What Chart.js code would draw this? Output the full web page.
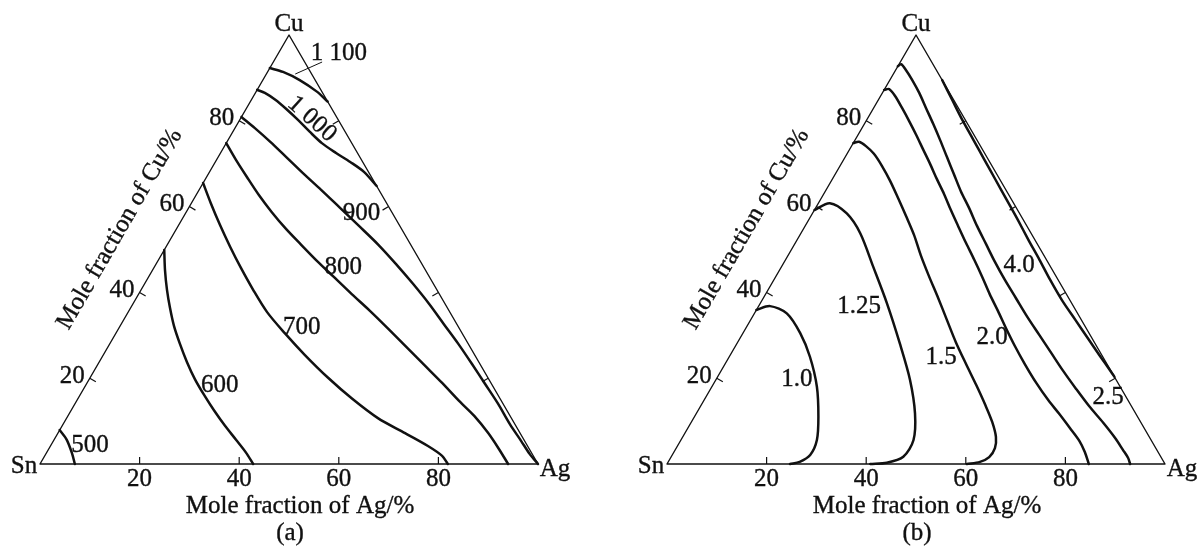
<!DOCTYPE html>
<html>
<head>
<meta charset="utf-8">
<script src="https://cdn.jsdelivr.net/npm/chart.js@4/dist/chart.umd.min.js"></script>
<style>
  html, body { margin: 0; padding: 0; background: #fff; }
  #wrap { position: relative; width: 1200px; height: 546px; overflow: hidden; }
  #wrap canvas { position: absolute; top: 0; }
  #chartA { left: 0; }
  #chartB { left: 600px; }
</style>
</head>
<body>
<div id="wrap">
  <canvas id="chartA" width="600" height="546"></canvas>
  <canvas id="chartB" width="600" height="546"></canvas>
</div>
<script>
// Grid ticks shared by the three edges (percent)
const TICKS = [20, 40, 60, 80];
const TICK_LABELS = ['20', '40', '60', '80'];

// ---- Panel (a): isotherms, pairs of [Ag %, Cu %] ----
const LEVELS_A = [500, 600, 700, 800, 900, 1000, 1100];
const A500 = [[0, 7.9], [2.5, 5.7], [5.1, 2.6], [7.0, 0]];
const A600 = [[0, 49.9], [2.5, 45.2], [5.2, 40.6], [7.9, 36.4], [10.8, 32.2], [14.1, 28.0], [17.6, 23.8],
  [21.2, 19.8], [24.9, 16.1], [28.8, 12.4], [32.7, 8.9], [36.6, 5.6], [40.1, 2.6], [42.8, 0]];
const A700 = [[0, 65.5], [3.9, 60.8], [8.3, 55.7], [12.9, 50.6], [17.5, 45.7], [22.5, 40.6], [27.9, 35.4],
  [33.9, 30.5], [40.5, 25.4], [47.8, 20.1], [55.1, 15.2], [62.5, 10.7], [69.7, 7.2], [75.8, 4.2], [79.8, 1.9], [81.9, 0]];
const A800 = [[0, 74.8], [3.9, 70.9], [8.1, 66.9], [12.6, 62.7], [17.2, 58.7], [22.0, 54.8], [26.9, 51.1],
  [32.0, 47.3], [37.2, 43.6], [42.8, 39.6], [48.4, 35.7], [54.2, 31.5], [59.9, 27.3], [65.6, 23.1], [71.3, 18.9],
  [76.8, 14.7], [81.6, 11.2], [86.4, 7.2], [90.4, 3.5], [94.0, 0]];
const A900 = [[0, 80.9], [4.0, 78.3], [8.7, 75.1], [13.6, 71.6], [18.9, 67.8], [24.5, 63.9], [30.4, 59.7],
  [36.3, 55.5], [42.4, 51.1], [48.2, 46.6], [53.9, 42.0], [59.5, 37.3], [64.8, 32.6], [70.0, 28.0], [75.1, 23.3],
  [80.0, 18.7], [85.0, 14.0], [89.7, 9.3], [93.9, 5.4], [97.2, 2.3], [100, 0]];
const A1000 = [[0, 87.2], [1.9, 86.5], [4.8, 84.9], [8.0, 82.8], [11.7, 80.2], [15.5, 77.4], [19.2, 74.8],
  [23.2, 72.5], [27.1, 70.4], [31.0, 68.1], [35.2, 64.8]];
const A1100 = [[0, 92.3], [3.1, 91.4], [7.4, 89.5], [12.2, 86.8], [15.5, 84.5]];
const CURVES_A = [A500, A600, A700, A800, A900, A1000, A1100];

// ---- Panel (b): iso-lines, pairs of [Ag %, Cu %] ----
const LEVELS_B = [1.0, 1.25, 1.5, 2.0, 2.5, 4.0];
const B100 = [[0, 35.9], [2.3, 36.8], [6.5, 35.1], [11.5, 30.5], [16.2, 25.0], [21.1, 18.0], [24.9, 11.0],
  [27.3, 5.6], [27.7, 2.1], [26.4, 0.5], [24.7, 0]];
const B125 = [[0, 59.2], [2.3, 60.8], [6.9, 58.4], [11.9, 53.8], [18.4, 46.0], [25.4, 37.5], [32.7, 28.1],
  [39.0, 19.6], [43.9, 11.8], [46.7, 5.6], [46.6, 1.7], [44.0, 0.3], [40.8, 0]];
const B150 = [[0, 74.8], [1.0, 75.1], [2.9, 74.1], [5.4, 72.3], [8.4, 69.5], [11.8, 66.0], [15.4, 62.0],
  [19.1, 57.8], [22.9, 53.4], [26.6, 48.7], [30.7, 43.8], [35.1, 38.7], [39.4, 33.6], [43.8, 28.4], [48.4, 23.3],
  [52.9, 18.4], [57.0, 13.8], [60.4, 9.8], [62.9, 6.3], [64.0, 3.7], [63.9, 1.6], [62.6, 0.5], [60.2, 0]];
const B200 = [[0, 87.2], [0.9, 87.4], [2.9, 85.8], [5.7, 83.0], [8.6, 80.0], [11.7, 76.7], [14.7, 73.4],
  [17.9, 69.9], [21.0, 66.4], [24.2, 62.9], [27.4, 59.2], [30.7, 55.5], [34.3, 51.5], [37.9, 47.6], [41.5, 43.6],
  [45.0, 39.6], [48.6, 35.7], [52.2, 31.7], [56.1, 27.5], [60.2, 23.3], [64.7, 18.9], [69.1, 14.9], [72.9, 11.7],
  [76.7, 8.4], [80.1, 5.4], [82.5, 2.8], [84.7, 0]];
const B250 = [[0, 92.7], [0.4, 93.2], [2.1, 91.8], [4.5, 89.5], [7.4, 86.5], [10.5, 83.0], [13.8, 79.3],
  [17.1, 75.5], [20.4, 71.6], [23.8, 67.6], [27.2, 63.6], [30.8, 59.7], [34.5, 55.5], [38.4, 51.3], [42.3, 47.1],
  [46.4, 42.9], [50.7, 38.7], [55.2, 34.3], [59.7, 30.1], [64.2, 25.9], [68.7, 21.7], [73.4, 17.5], [78.0, 13.5],
  [82.8, 9.6], [86.9, 6.1], [89.9, 3.3], [91.9, 1.4], [93.0, 0]];
const B400 = [[10.5, 89.5], [14.8, 84.9], [19.2, 80.2], [23.8, 75.5], [28.3, 70.9], [32.9, 66.2], [37.5, 61.5],
  [42.0, 56.9], [46.5, 52.2], [51.0, 47.6], [55.5, 42.9], [60.2, 38.2], [65.2, 33.6], [70.3, 28.9], [74.1, 25.4],
  [77.2, 22.6], [79.7, 20.3]];
const CURVES_B = [B100, B125, B150, B200, B250, B400];

// ---- Text and layout ----
const FONT = '25px "Liberation Serif", "Times New Roman", serif';
const INK = '#111';
const SQ = Math.sqrt(3) / 2;

// label anchors in composition coordinates (Ag %, Cu %), rotation in degrees
const LABEL_POS_A = [
  { ag: 7.9, cu: 4.3 }, { ag: 27.0, cu: 18.2 }, { ag: 36.6, cu: 31.9 },
  { ag: 38.0, cu: 45.8 }, { ag: 35.3, cu: 58.5 }, { ag: 14.4, cu: 80.4, rot: 42 },
  { ag: 12.1, cu: 95.8, leader: [[5.8, 90.9], [9.8, 93.7]] }
];
const LABEL_POS_B = [
  { ag: 16.3, cu: 19.6 }, { ag: 20.2, cu: 36.8 }, { ag: 42.6, cu: 24.9 },
  { ag: 50.5, cu: 29.6 }, { ag: 80.8, cu: 15.6 }, { ag: 47.5, cu: 46.4 }
];

function fmtA(v) { return v >= 1000 ? String(v).replace(/^(\d)(\d{3})$/, '$1 $2') : String(v); }
function fmtB(v) { return Number.isInteger(v * 10) ? v.toFixed(1) : v.toFixed(2); }

function toXY(p) { return { x: p[0] + p[1] / 2, y: p[1] * SQ }; }

function buildDatasets(curves) {
  const frame = {
    data: [[0, 0], [100, 0], [0, 100], [0, 0]].map(toXY),
    borderColor: INK, borderWidth: 1.4, tension: 0
  };
  const lines = curves.map(c => ({
    data: c.map(toXY),
    borderColor: INK, borderWidth: 2.5, tension: 0.3
  }));
  return [frame, ...lines].map(d => Object.assign(d, {
    showLine: true, pointRadius: 0, fill: false, clip: false,
    borderJoinStyle: 'round', borderCapStyle: 'round'
  }));
}

function annotate(opts) {
  return {
    id: 'ternaryText',
    afterDatasetsDraw(chart) {
      const ctx = chart.ctx, sx = chart.scales.x, sy = chart.scales.y;
      const px = (ag, cu) => ({ x: sx.getPixelForValue(ag + cu / 2), y: sy.getPixelForValue(cu * SQ) });
      const sn = px(0, 0), ag = px(100, 0), cu = px(0, 100), cen = px(100 / 3, 100 / 3);
      ctx.save();
      ctx.strokeStyle = INK; ctx.fillStyle = INK; ctx.lineWidth = 1.2;
      ctx.font = FONT;

      const text = (s, x, y) => {
        ctx.fillText(s, x, y);
        ctx.save(); ctx.lineWidth = 0.35; ctx.strokeText(s, x, y); ctx.restore();
      };

      // inward normal of an edge
      const normal = (a, b) => {
        const dx = b.x - a.x, dy = b.y - a.y, L = Math.hypot(dx, dy);
        let n = { x: -dy / L, y: dx / L };
        const m = { x: (a.x + b.x) / 2, y: (a.y + b.y) / 2 };
        if ((cen.x - m.x) * n.x + (cen.y - m.y) * n.y < 0) n = { x: -n.x, y: -n.y };
        return n;
      };
      const nB = normal(sn, ag), nL = normal(sn, cu), nR = normal(ag, cu);
      const TL = 7;
      const tick = (p, n) => { ctx.beginPath(); ctx.moveTo(p.x, p.y); ctx.lineTo(p.x + n.x * TL, p.y + n.y * TL); ctx.stroke(); };

      TICKS.forEach((v, i) => {
        const pb = px(v, 0), pl = px(0, v), pr = px(v, 100 - v);
        tick(pb, nB); tick(pl, nL); tick(pr, nR);
        ctx.textAlign = 'center'; ctx.textBaseline = 'middle';
        text(TICK_LABELS[i], pb.x, pb.y + 15);
        ctx.textAlign = 'right';
        text(TICK_LABELS[i], pl.x - 5, pl.y - 2);
      });

      // vertex names
      ctx.textAlign = 'center'; ctx.textBaseline = 'middle';
      text('Cu', cu.x, cu.y - 11);
      text('Sn', sn.x - 16, sn.y + 2);
      text('Ag', ag.x + 17, ag.y + 5);

      // axis titles
      text('Mole fraction of Ag/%', (sn.x + ag.x) / 2 + 11, sn.y + 42);
      text(opts.caption, (sn.x + ag.x) / 2 + 1, sn.y + 69);
      const e = px(0, 49);
      ctx.save();
      ctx.translate(e.x - nL.x * 49, e.y - nL.y * 49);
      ctx.rotate(-Math.PI / 3);
      text('Mole fraction of Cu/%', 0, 0);
      ctx.restore();

      // iso-line values
      opts.levels.forEach((v, i) => {
        const L = opts.pos[i], p = px(L.ag, L.cu);
        ctx.save();
        ctx.translate(p.x, p.y);
        if (L.rot) ctx.rotate(L.rot * Math.PI / 180);
        text(opts.fmt(v), 0, 0);
        ctx.restore();
        if (L.leader) {
          const a = px(L.leader[0][0], L.leader[0][1]), b = px(L.leader[1][0], L.leader[1][1]);
          ctx.lineWidth = 1;
          ctx.beginPath(); ctx.moveTo(a.x, a.y); ctx.lineTo(b.x, b.y); ctx.stroke();
        }
      });
      ctx.restore();
    }
  };
}

function makeChart(id, curves, padding, opts) {
  return new Chart(document.getElementById(id), {
    type: 'scatter',
    data: { datasets: buildDatasets(curves) },
    options: {
      responsive: false, animation: false, events: [],
      layout: { padding },
      plugins: { legend: { display: false }, tooltip: { enabled: false } },
      scales: {
        x: { type: 'linear', min: 0, max: 100, display: false },
        y: { type: 'linear', min: 0, max: 100 * SQ, display: false }
      }
    },
    plugins: [annotate(opts)]
  });
}

makeChart('chartA', CURVES_A, { left: 40, right: 62, top: 35, bottom: 82 },
  { levels: LEVELS_A, pos: LABEL_POS_A, fmt: fmtA, caption: '(a)' });
makeChart('chartB', CURVES_B, { left: 67, right: 35, top: 35, bottom: 82 },
  { levels: LEVELS_B, pos: LABEL_POS_B, fmt: fmtB, caption: '(b)' });
</script>
</body>
</html>
